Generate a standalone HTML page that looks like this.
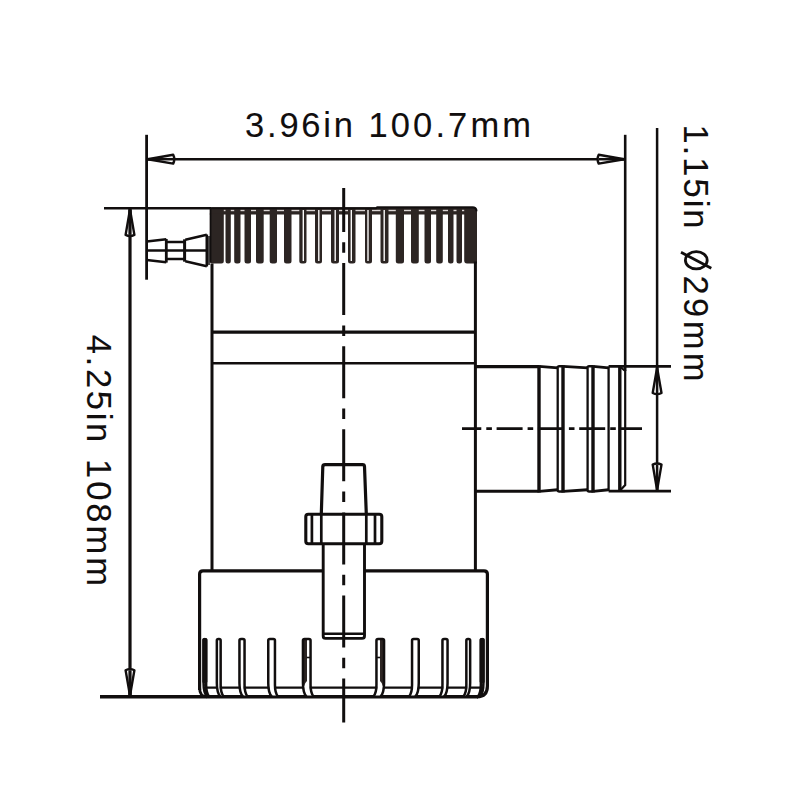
<!DOCTYPE html>
<html><head><meta charset="utf-8"><style>
html,body{margin:0;padding:0;background:#fff;}
svg{display:block;}
text{white-space:pre;}
</style></head><body>
<svg width="800" height="800" viewBox="0 0 800 800">
<rect width="800" height="800" fill="#fff"/>
<path d="M209.8,260.5 V209 L211.5,207.2 H376 L377,206.4 H472.5 Q477,206.4 477,211.2 V214.5 H209.8 Z" fill="#2c2523"/>
<path d="M464.2,213.5 V260.5 Q464.2,263.5 467,263.5 H475 L477,263.5 V213.5 Z" fill="#2c2523"/>
<path d="M209.8,213.5 V261.0 Q209.8,263.5 212.3,263.5 H221.3 Q223.8,263.5 223.8,261.0 V213.5 Z" fill="#2c2523"/>
<path d="M225.5,213.5 V261.0 Q225.5,263.5 228.0,263.5 H228.3 Q230.8,263.5 230.8,261.0 V213.5 Z" fill="#2c2523"/>
<path d="M234.2,213.5 V261.0 Q234.2,263.5 236.7,263.5 H238.0 Q240.5,263.5 240.5,261.0 V213.5 Z" fill="#2c2523"/>
<path d="M244.5,213.5 V261.0 Q244.5,263.5 247.0,263.5 H248.5 Q251,263.5 251,261.0 V213.5 Z" fill="#2c2523"/>
<path d="M256,213.5 V261.0 Q256,263.5 258.5,263.5 H261.2 Q263.7,263.5 263.7,261.0 V213.5 Z" fill="#2c2523"/>
<path d="M269.7,213.5 V261.0 Q269.7,263.5 272.2,263.5 H274.5 Q277,263.5 277,261.0 V213.5 Z" fill="#2c2523"/>
<path d="M284,213.5 V261.0 Q284,263.5 286.5,263.5 H289.0 Q291.5,263.5 291.5,261.0 V213.5 Z" fill="#2c2523"/>
<path d="M299.3,213.5 V261.0 Q299.3,263.5 301.8,263.5 H304.0 Q306.5,263.5 306.5,261.0 V213.5 Z" fill="#2c2523"/>
<path d="M315,213.5 V261.0 Q315,263.5 317.5,263.5 H319.5 Q322,263.5 322,261.0 V213.5 Z" fill="#2c2523"/>
<path d="M331,213.5 V261.0 Q331,263.5 333.5,263.5 H336.5 Q339,263.5 339,261.0 V213.5 Z" fill="#2c2523"/>
<path d="M348,213.5 V261.0 Q348,263.5 350.5,263.5 H353.0 Q355.5,263.5 355.5,261.0 V213.5 Z" fill="#2c2523"/>
<path d="M365,213.5 V261.0 Q365,263.5 367.5,263.5 H369.5 Q372,263.5 372,261.0 V213.5 Z" fill="#2c2523"/>
<path d="M380.5,213.5 V261.0 Q380.5,263.5 383.0,263.5 H386.0 Q388.5,263.5 388.5,261.0 V213.5 Z" fill="#2c2523"/>
<path d="M395.8,213.5 V261.0 Q395.8,263.5 398.3,263.5 H401.5 Q404,263.5 404,261.0 V213.5 Z" fill="#2c2523"/>
<path d="M411,213.5 V261.0 Q411,263.5 413.5,263.5 H416.3 Q418.8,263.5 418.8,261.0 V213.5 Z" fill="#2c2523"/>
<path d="M424.5,213.5 V261.0 Q424.5,263.5 427.0,263.5 H428.5 Q431,263.5 431,261.0 V213.5 Z" fill="#2c2523"/>
<path d="M436.2,213.5 V261.0 Q436.2,263.5 438.7,263.5 H440.3 Q442.8,263.5 442.8,261.0 V213.5 Z" fill="#2c2523"/>
<path d="M448,213.5 V261.0 Q448,263.5 450.5,263.5 H451.0 Q453.5,263.5 453.5,261.0 V213.5 Z" fill="#2c2523"/>
<path d="M456.5,213.5 V261.0 Q456.5,263.5 459.0,263.5 H459.5 Q462,263.5 462,261.0 V213.5 Z" fill="#2c2523"/>
<rect x="223.8" y="209.8" width="1.7" height="1.4" fill="#d9d4d3"/>
<rect x="230.8" y="209.8" width="3.4" height="1.4" fill="#d9d4d3"/>
<rect x="240.5" y="209.8" width="4.0" height="1.4" fill="#d9d4d3"/>
<rect x="251" y="209.8" width="5" height="1.4" fill="#d9d4d3"/>
<rect x="263.7" y="209.8" width="6.0" height="1.4" fill="#d9d4d3"/>
<rect x="277" y="209.8" width="7" height="1.4" fill="#d9d4d3"/>
<rect x="291.5" y="209.8" width="7.8" height="1.4" fill="#d9d4d3"/>
<rect x="306.5" y="209.8" width="8.5" height="1.4" fill="#d9d4d3"/>
<rect x="322" y="209.8" width="9" height="1.4" fill="#d9d4d3"/>
<rect x="339" y="209.8" width="9" height="1.4" fill="#d9d4d3"/>
<rect x="355.5" y="209.8" width="9.5" height="1.4" fill="#d9d4d3"/>
<rect x="372" y="209.8" width="8.5" height="1.4" fill="#d9d4d3"/>
<rect x="388.5" y="209.8" width="7.3" height="1.4" fill="#d9d4d3"/>
<rect x="404" y="209.8" width="7" height="1.4" fill="#d9d4d3"/>
<rect x="418.8" y="209.8" width="5.7" height="1.4" fill="#d9d4d3"/>
<rect x="431" y="209.8" width="5.2" height="1.4" fill="#d9d4d3"/>
<rect x="442.8" y="209.8" width="5.2" height="1.4" fill="#d9d4d3"/>
<rect x="453.5" y="209.8" width="3.0" height="1.4" fill="#d9d4d3"/>
<rect x="462" y="209.8" width="2.2" height="1.4" fill="#d9d4d3"/>
<rect x="302.6" y="210" width="1.4" height="51.0" fill="#fbfafa"/>
<rect x="318.1" y="210" width="1.4" height="51.0" fill="#fbfafa"/>
<rect x="334.5" y="210" width="1.4" height="51.0" fill="#fbfafa"/>
<rect x="350.6" y="210" width="1.4" height="51.0" fill="#fbfafa"/>
<rect x="367.3" y="210" width="1.4" height="51.0" fill="#fbfafa"/>
<rect x="383.5" y="210" width="1.4" height="51.0" fill="#fbfafa"/>
<line x1="210.6" y1="208.2" x2="210.6" y2="262.5" stroke="#110e0e" stroke-width="1.6"/>
<path d="M211,208.2 H376 L377,207.4 H473 Q476.5,207.4 476.5,211.2" fill="none" stroke="#110e0e" stroke-width="2"/>
<line x1="212" y1="263.5" x2="212" y2="572" stroke="#110e0e" stroke-width="3"/>
<line x1="475.4" y1="261.5" x2="475.4" y2="572" stroke="#110e0e" stroke-width="3"/>
<line x1="212" y1="332.1" x2="475.4" y2="332.1" stroke="#110e0e" stroke-width="3.4"/>
<line x1="212" y1="363.3" x2="475.4" y2="363.3" stroke="#110e0e" stroke-width="2.5"/>
<line x1="475.4" y1="366.6" x2="539" y2="366.6" stroke="#110e0e" stroke-width="3.1"/>
<line x1="475.4" y1="491.2" x2="539" y2="491.2" stroke="#110e0e" stroke-width="3.1"/>
<path d="M539,366.4 L557.7,367.9 M539,491.4 L557.7,489.7" stroke="#110e0e" stroke-width="2.9" fill="none"/>
<line x1="539" y1="365.5" x2="539" y2="492.5" stroke="#110e0e" stroke-width="3.4"/>
<line x1="557.7" y1="366.5" x2="557.7" y2="491" stroke="#110e0e" stroke-width="2.3"/>
<path d="M563,366.4 L587.6,367.9 M563,491.4 L587.6,489.7" stroke="#110e0e" stroke-width="2.9" fill="none"/>
<line x1="563" y1="365.5" x2="563" y2="492.5" stroke="#110e0e" stroke-width="3.4"/>
<line x1="587.6" y1="366.5" x2="587.6" y2="491" stroke="#110e0e" stroke-width="2.3"/>
<path d="M593,366.4 L608.6,367.9 M593,491.4 L608.6,489.7" stroke="#110e0e" stroke-width="2.9" fill="none"/>
<line x1="593" y1="365.5" x2="593" y2="492.5" stroke="#110e0e" stroke-width="3.4"/>
<line x1="608.6" y1="366.5" x2="608.6" y2="491" stroke="#110e0e" stroke-width="2.3"/>
<path d="M557.7,367.5 Q557.7,366.2 559.2,366.2 H563 M557.7,490 Q557.7,491.5 559.2,491.5 H563" stroke="#110e0e" stroke-width="2.4" fill="none"/>
<path d="M587.6,367.5 Q587.6,366.2 589.1,366.2 H593 M587.6,490 Q587.6,491.5 589.1,491.5 H593" stroke="#110e0e" stroke-width="2.4" fill="none"/>
<line x1="608.6" y1="366.4" x2="671" y2="366.4" stroke="#110e0e" stroke-width="2.9"/>
<line x1="608.6" y1="491.1" x2="671" y2="491.1" stroke="#110e0e" stroke-width="2.9"/>
<line x1="619.8" y1="366" x2="619.8" y2="491" stroke="#110e0e" stroke-width="3.4"/>
<path d="M619.8,366.5 L625.2,371 V485 L620.5,490" stroke="#110e0e" stroke-width="2.2" fill="none"/>
<path d="M199.6,690 V574 Q199.6,570.8 203,570.8 H323 M364.5,570.8 H484 Q487.4,570.8 487.4,574 V686 Q487.4,696.8 477,696.8" fill="none" stroke="#110e0e" stroke-width="3.2"/>
<path d="M199.6,688 Q199.6,696.8 207,696.8" fill="none" stroke="#110e0e" stroke-width="2.8"/>
<line x1="100" y1="696.8" x2="478" y2="696.8" stroke="#110e0e" stroke-width="3.4"/>
<line x1="205" y1="687.6" x2="482" y2="687.6" stroke="#110e0e" stroke-width="2.4"/>
<path d="M204.55,686 L205.15,686 Q205.15,692.5 209.15,695.5 L207.55,695.5 Q204.55,692.5 204.55,686 Z" fill="#fff"/><rect x="202.3" y="637.9" width="5.1" height="45.1" rx="1.5" fill="#2c2523"/><path d="M203.55,683 V640.5 Q203.55,638.9 205.15,638.9 H204.55 Q206.15,638.9 206.15,640.5 V685 Q206.15,693 209.15,696.5 M203.55,683 Q203.55,693 207.05,696.5" fill="none" stroke="#110e0e" stroke-width="2.5"/>
<path d="M482.45,686 L481.85,686 Q481.85,692.5 477.85,695.5 L479.45,695.5 Q482.45,692.5 482.45,686 Z" fill="#fff"/><rect x="479.6" y="637.9" width="5.1" height="45.1" rx="1.5" fill="#2c2523"/><path d="M483.45,683 V640.5 Q483.45,638.9 481.85,638.9 H482.45 Q480.85,638.9 480.85,640.5 V685 Q480.85,693 477.85,696.5 M483.45,683 Q483.45,693 479.95,696.5" fill="none" stroke="#110e0e" stroke-width="2.5"/>
<path d="M217.85,686 L219.65,686 Q219.65,692.5 223.65,695.5 L220.85,695.5 Q217.85,692.5 217.85,686 Z" fill="#fff"/><path d="M216.85,683 V640.5 Q216.85,638.9 218.45,638.9 H219.05 Q220.65,638.9 220.65,640.5 V685 Q220.65,693 223.65,696.5 M216.85,683 Q216.85,693 220.35,696.5" fill="none" stroke="#110e0e" stroke-width="2.5"/>
<path d="M469.15,686 L467.35,686 Q467.35,692.5 463.35,695.5 L466.15,695.5 Q469.15,692.5 469.15,686 Z" fill="#fff"/><path d="M470.15,683 V640.5 Q470.15,638.9 468.55,638.9 H467.95 Q466.35,638.9 466.35,640.5 V685 Q466.35,693 463.35,696.5 M470.15,683 Q470.15,693 466.65,696.5" fill="none" stroke="#110e0e" stroke-width="2.5"/>
<path d="M240.45,686 L243.55,686 Q243.55,692.5 247.55,695.5 L243.45,695.5 Q240.45,692.5 240.45,686 Z" fill="#fff"/><path d="M239.45,683 V640.5 Q239.45,638.9 241.05,638.9 H242.95 Q244.55,638.9 244.55,640.5 V685 Q244.55,693 247.55,696.5 M239.45,683 Q239.45,693 242.95,696.5" fill="none" stroke="#110e0e" stroke-width="2.5"/>
<path d="M446.55,686 L443.45,686 Q443.45,692.5 439.45,695.5 L443.55,695.5 Q446.55,692.5 446.55,686 Z" fill="#fff"/><path d="M447.55,683 V640.5 Q447.55,638.9 445.95,638.9 H444.05 Q442.45,638.9 442.45,640.5 V685 Q442.45,693 439.45,696.5 M447.55,683 Q447.55,693 444.05,696.5" fill="none" stroke="#110e0e" stroke-width="2.5"/>
<path d="M269.25,686 L273.95,686 Q273.95,692.5 277.95,695.5 L272.25,695.5 Q269.25,692.5 269.25,686 Z" fill="#fff"/><path d="M268.25,683 V640.5 Q268.25,638.9 269.85,638.9 H273.35 Q274.95,638.9 274.95,640.5 V685 Q274.95,693 277.95,696.5 M268.25,683 Q268.25,693 271.75,696.5" fill="none" stroke="#110e0e" stroke-width="2.5"/>
<path d="M417.75,686 L413.05,686 Q413.05,692.5 409.05,695.5 L414.75,695.5 Q417.75,692.5 417.75,686 Z" fill="#fff"/><path d="M418.75,683 V640.5 Q418.75,638.9 417.15,638.9 H413.65 Q412.05,638.9 412.05,640.5 V685 Q412.05,693 409.05,696.5 M418.75,683 Q418.75,693 415.25,696.5" fill="none" stroke="#110e0e" stroke-width="2.5"/>
<path d="M303.95,686 L309.55,686 Q309.55,692.5 313.55,695.5 L306.95,695.5 Q303.95,692.5 303.95,686 Z" fill="#fff"/><path d="M302.2,638.9 H307.0 V681 Q304.7,683 304.2,686 H302.2 Z" fill="#2c2523"/><line x1="306.7" y1="657.5" x2="310.8" y2="657.5" stroke="#110e0e" stroke-width="1.6"/><path d="M302.95,683 V640.5 Q302.95,638.9 304.55,638.9 H308.95 Q310.55,638.9 310.55,640.5 V685 Q310.55,693 313.55,696.5 M302.95,683 Q302.95,693 306.45,696.5" fill="none" stroke="#110e0e" stroke-width="2.5"/>
<path d="M383.05,686 L377.45,686 Q377.45,692.5 373.45,695.5 L380.05,695.5 Q383.05,692.5 383.05,686 Z" fill="#fff"/><path d="M384.8,638.9 H380.0 V681 Q382.3,683 382.8,686 H384.8 Z" fill="#2c2523"/><line x1="380.3" y1="657.5" x2="376.2" y2="657.5" stroke="#110e0e" stroke-width="1.6"/><path d="M384.05,683 V640.5 Q384.05,638.9 382.45,638.9 H378.05 Q376.45,638.9 376.45,640.5 V685 Q376.45,693 373.45,696.5 M384.05,683 Q384.05,693 380.55,696.5" fill="none" stroke="#110e0e" stroke-width="2.5"/>
<path d="M321.3,514 L322.8,466.5 Q323,464.6 325,464.6 H362.5 Q364.4,464.6 364.5,466.5 L366.3,514" fill="none" stroke="#110e0e" stroke-width="3.2"/>
<rect x="305.8" y="514.2" width="76" height="29.6" rx="2.5" fill="none" stroke="#110e0e" stroke-width="3.1"/>
<line x1="311.9" y1="514" x2="311.9" y2="543.8" stroke="#110e0e" stroke-width="2.7"/>
<line x1="321.3" y1="514" x2="321.3" y2="543.8" stroke="#110e0e" stroke-width="2.7"/>
<line x1="366.3" y1="514" x2="366.3" y2="543.8" stroke="#110e0e" stroke-width="2.7"/>
<line x1="375" y1="514" x2="375" y2="543.8" stroke="#110e0e" stroke-width="2.7"/>
<path d="M323.2,543.8 V636 Q323.2,638.4 325.5,638.4 H362 Q364.5,638.4 364.5,636 V543.8" fill="none" stroke="#110e0e" stroke-width="2.9"/>
<line x1="323.2" y1="633.8" x2="364.5" y2="633.8" stroke="#110e0e" stroke-width="2.4"/>
<line x1="343.7" y1="188" x2="343.7" y2="722.5" stroke="#110e0e" stroke-width="3" stroke-dasharray="52 10.3 10.5 10.3" stroke-dashoffset="8"/>
<line x1="462" y1="428.6" x2="642" y2="428.6" stroke="#110e0e" stroke-width="2.8" stroke-dasharray="26 5 5.6 4.7" stroke-dashoffset="6.7"/>
<g fill="none" stroke="#110e0e" stroke-width="2.5"><path d="M146.7,241.5 L166.3,239.3 M146.7,260 L166.3,262.2"/><path d="M166.3,242 H184.3 M166.3,259 H184.3"/><path d="M185.3,239.7 L206.8,234.8 M185.3,261.3 L206.8,266.2"/><line x1="146.7" y1="250.5" x2="206.8" y2="250.5"/><line x1="166.3" y1="239" x2="166.3" y2="262.6" stroke-width="2.8"/><line x1="184.6" y1="239.3" x2="184.6" y2="261.7" stroke-width="3"/><line x1="206.8" y1="234.5" x2="206.8" y2="266.5" stroke-width="2.6"/><line x1="209.0" y1="236" x2="209.0" y2="265" stroke-width="1.5"/></g>
<line x1="146.6" y1="134.8" x2="146.6" y2="279.7" stroke="#110e0e" stroke-width="2.8"/>
<line x1="625.2" y1="134.8" x2="625.2" y2="371" stroke="#110e0e" stroke-width="2.6"/>
<line x1="146.6" y1="159.2" x2="625.2" y2="159.2" stroke="#110e0e" stroke-width="2.5"/>
<path d="M147.8,159.2 L173.20,163.60 Q175.40,159.20 173.20,154.80 Z" fill="#fff" stroke="#110e0e" stroke-width="2.4" stroke-linejoin="round"/><path d="M147.8,159.2 L163.04,160.10 L173.20,159.20 L163.04,158.30 Z" fill="#110e0e"/><line x1="147.8" y1="159.2" x2="173.2" y2="159.2" stroke="#110e0e" stroke-width="2.5"/>
<path d="M624.1,159.2 L598.70,154.80 Q596.50,159.20 598.70,163.60 Z" fill="#fff" stroke="#110e0e" stroke-width="2.4" stroke-linejoin="round"/><path d="M624.1,159.2 L608.86,158.30 L598.70,159.20 L608.86,160.10 Z" fill="#110e0e"/><line x1="624.1" y1="159.2" x2="598.7" y2="159.2" stroke="#110e0e" stroke-width="2.5"/>
<line x1="104" y1="208.3" x2="211" y2="208.3" stroke="#110e0e" stroke-width="2.4"/>
<line x1="130" y1="208.3" x2="130" y2="696.8" stroke="#110e0e" stroke-width="3.2"/>
<path d="M130,209.5 L125.60,234.90 Q130.00,237.10 134.40,234.90 Z" fill="#fff" stroke="#110e0e" stroke-width="2.4" stroke-linejoin="round"/><path d="M130,209.5 L129.10,224.74 L130.00,234.90 L130.90,224.74 Z" fill="#110e0e"/><line x1="130" y1="209.5" x2="130.0" y2="234.9" stroke="#110e0e" stroke-width="3.2"/>
<path d="M130,695.6 L134.40,670.20 Q130.00,668.00 125.60,670.20 Z" fill="#fff" stroke="#110e0e" stroke-width="2.4" stroke-linejoin="round"/><path d="M130,695.6 L130.90,680.36 L130.00,670.20 L129.10,680.36 Z" fill="#110e0e"/><line x1="130" y1="695.6" x2="130.0" y2="670.2" stroke="#110e0e" stroke-width="3.2"/>
<line x1="657.1" y1="128" x2="657.1" y2="491" stroke="#110e0e" stroke-width="2.5"/>
<path d="M657.1,367.6 L652.70,393.00 Q657.10,395.20 661.50,393.00 Z" fill="#fff" stroke="#110e0e" stroke-width="2.4" stroke-linejoin="round"/><path d="M657.1,367.6 L656.20,382.84 L657.10,393.00 L658.00,382.84 Z" fill="#110e0e"/><line x1="657.1" y1="367.6" x2="657.1" y2="393.0" stroke="#110e0e" stroke-width="2.5"/>
<path d="M657.1,490 L661.50,464.60 Q657.10,462.40 652.70,464.60 Z" fill="#fff" stroke="#110e0e" stroke-width="2.4" stroke-linejoin="round"/><path d="M657.1,490 L658.00,474.76 L657.10,464.60 L656.20,474.76 Z" fill="#110e0e"/><line x1="657.1" y1="490" x2="657.1" y2="464.6" stroke="#110e0e" stroke-width="2.5"/>
<text transform="translate(245,137) scale(1.0,1)" font-family="Liberation Sans, sans-serif" font-size="34.5" fill="#110e0e" stroke="#110e0e" stroke-width="0.1" textLength="108.00" lengthAdjust="spacing">3.96in</text>
<text transform="translate(368.5,137) scale(1.0,1)" font-family="Liberation Sans, sans-serif" font-size="34.5" fill="#110e0e" stroke="#110e0e" stroke-width="0.1" textLength="162.50" lengthAdjust="spacing">100.7mm</text>
<text transform="translate(87.2,334.8) rotate(90) scale(1.0,1)" font-family="Liberation Sans, sans-serif" font-size="34.5" fill="#110e0e" stroke="#110e0e" stroke-width="0.1" textLength="107.50" lengthAdjust="spacing">4.25in</text>
<text transform="translate(87.2,459) rotate(90) scale(1.0,1)" font-family="Liberation Sans, sans-serif" font-size="34.5" fill="#110e0e" stroke="#110e0e" stroke-width="0.1" textLength="127.00" lengthAdjust="spacing">108mm</text>
<text transform="translate(684.4,124.5) rotate(90) scale(1.0,1)" font-family="Liberation Sans, sans-serif" font-size="34.5" fill="#110e0e" stroke="#110e0e" stroke-width="0.1" textLength="104.00" lengthAdjust="spacing">1.15in</text>
<text transform="translate(684.4,275.5) rotate(90) scale(1.0,1)" font-family="Liberation Sans, sans-serif" font-size="34.5" fill="#110e0e" stroke="#110e0e" stroke-width="0.1" textLength="106.00" lengthAdjust="spacing">29mm</text>
<ellipse cx="696.3" cy="260.2" rx="10.9" ry="8.6" fill="none" stroke="#110e0e" stroke-width="2.8"/>
<line x1="681" y1="252.3" x2="711.3" y2="268.3" stroke="#110e0e" stroke-width="2.8"/>
</svg>
</body></html>
